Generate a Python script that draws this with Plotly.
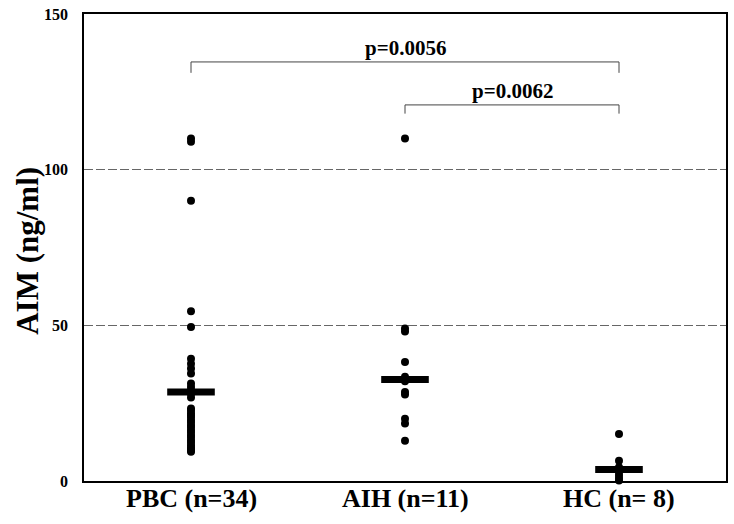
import plotly.graph_objects as go

categories = ["PBC (n=34)", "AIH (n=11)", "HC (n= 8)"]

pbc_values = [110, 109, 90, 54.5, 49.5, 39.3, 37.7, 36.1, 34.5, 31.3, 30.2, 29.1, 28.0, 26.8,
              23.3, 22.6, 21.8, 21.0, 20.3, 19.4, 18.7, 17.8, 17.1, 16.2, 15.5, 14.6, 13.9,
              13.0, 12.3, 11.5, 10.8, 10.2, 9.8, 9.4]
aih_values = [110, 49, 48, 38.2, 33.5, 32, 28.6, 27.8, 20, 18.5, 12.9]
hc_values = [15.1, 6.5, 4.4, 3.5, 3.0, 1.9, 1.0, 0.2]
medians = [28.6, 32.6, 3.7]

comparisons = [(0, 2, "p=0.0056"), (1, 2, "p=0.0062")]
bracket_y = [134.6, 120.8]
bracket_drop = [3.5, 2.8]
label_y = [139.2, 125.4]

y_ticks = [0, 50, 100, 150]

FONT = "Liberation Serif, Times New Roman, serif"

fig = go.Figure()

groups = [pbc_values, aih_values, hc_values]
for i, vals in enumerate(groups):
    fig.add_trace(go.Scatter(
        x=[i] * len(vals), y=vals, mode="markers",
        marker=dict(color="black", size=8, symbol="circle"),
        cliponaxis=False, showlegend=False, hoverinfo="y"))

fig.add_trace(go.Scatter(
    x=list(range(len(categories))), y=medians, mode="markers",
    marker=dict(symbol="line-ew", size=34, line=dict(color="black", width=7)),
    cliponaxis=False, showlegend=False, hoverinfo="y"))

for (a, b, txt), by, dr, ly in zip(comparisons, bracket_y, bracket_drop, label_y):
    fig.add_shape(type="path",
                  path=f"M {a},{by-dr} L {a},{by} L {b},{by} L {b},{by-dr}",
                  xref="x", yref="y", line=dict(color="#444", width=1))
    fig.add_annotation(x=(a + b) / 2, y=ly, text=txt, showarrow=False,
                       xref="x", yref="y",
                       font=dict(family=FONT, size=21, color="black", weight="bold"))

for i, cat in enumerate(categories):
    fig.add_annotation(x=i, y=0, xref="x", yref="paper", text=cat, showarrow=False,
                       xanchor="center", yanchor="middle", yshift=-17,
                       font=dict(family=FONT, size=26, color="black", weight="bold"))

fig.add_annotation(text="AIM (ng/ml)", textangle=-90, showarrow=False,
                   xref="paper", yref="y", x=-(84 - 27) / 644, y=74,
                   xanchor="center", yanchor="middle",
                   font=dict(family=FONT, size=31, color="black", weight="bold"))

fig.update_layout(
    width=734, height=524,
    margin=dict(l=84, r=6, t=13, b=43),
    plot_bgcolor="white", paper_bgcolor="white",
    xaxis=dict(range=[-0.5, 2.5], showticklabels=False,
               showgrid=False, zeroline=False, showline=True, mirror=True,
               linecolor="black", linewidth=1.5, ticks=""),
    yaxis=dict(range=[0, 150], tickvals=y_ticks, showgrid=True, gridcolor="#666",
               griddash="9px,3px", gridwidth=1, zeroline=False, showline=True, mirror=True,
               linecolor="black", linewidth=1.5, ticks="", ticklabelstandoff=11,
               tickfont=dict(family=FONT, size=16, color="black", weight="bold")),
)

fig.write_html("out.html")
